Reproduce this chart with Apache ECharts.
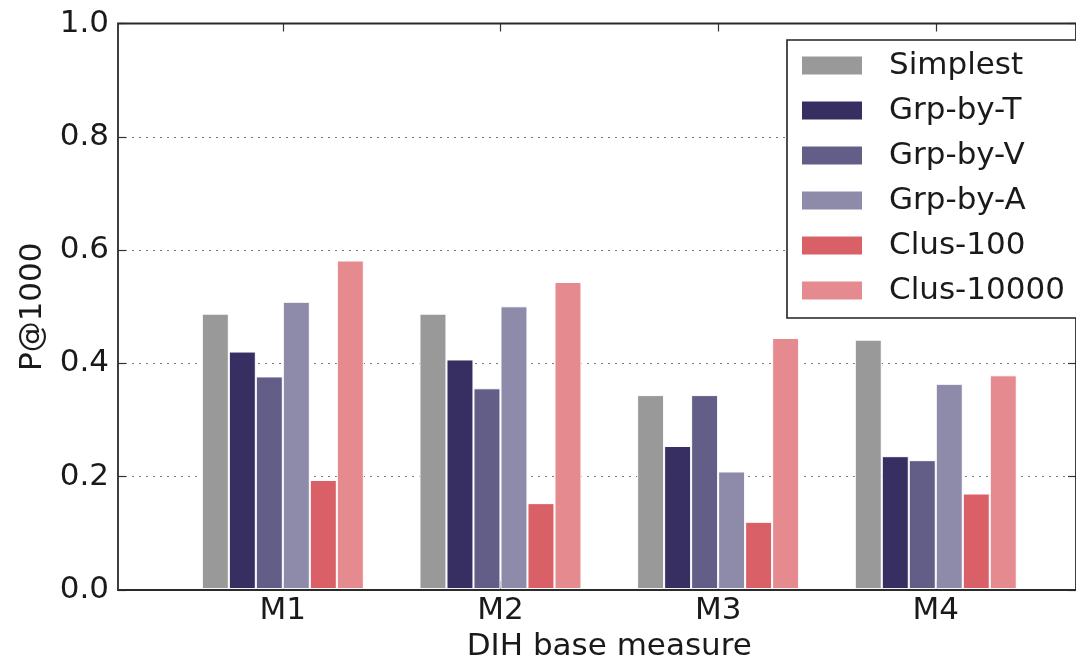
<!DOCTYPE html>
<html>
<head>
<meta charset="utf-8">
<script src="https://cdn.jsdelivr.net/npm/echarts@6/dist/echarts.min.js"></script>
<style>
html,body{margin:0;padding:0;background:#fff;}
#chart{width:1076px;height:667px;}
</style>
</head>
<body>
<div id="chart"></div>
<script>
const categories = ['M1', 'M2', 'M3', 'M4'];
const seriesNames = ['Simplest', 'Grp-by-T', 'Grp-by-V', 'Grp-by-A', 'Clus-100', 'Clus-10000'];
const simplest  = [0.487, 0.487, 0.343, 0.441];
const grpByT    = [0.420, 0.406, 0.253, 0.235];
const grpByV    = [0.376, 0.355, 0.343, 0.228];
const grpByA    = [0.508, 0.500, 0.208, 0.363];
const clus100   = [0.193, 0.152, 0.119, 0.169];
const clus10000 = [0.581, 0.543, 0.444, 0.378];
const yTicks = [0.0, 0.2, 0.4, 0.6, 0.8, 1.0];

const colors = ['#999999', '#372f62', '#625e87', '#8e8baa', '#da6067', '#e58b8f'];
const values = [simplest, grpByT, grpByV, grpByA, clus100, clus10000];
const FONT = 'DejaVu Sans';
const FS = 31;

const chart = echarts.init(document.getElementById('chart'));
const gridTop = 23.5, gridBottom = 77;

const option = {
  animation: false,
  backgroundColor: '#fff',
  textStyle: { fontFamily: FONT },
  legend: {
    orient: 'vertical',
    left: 787, top: 40,
    padding: [10, 14, 12, 13],
    itemWidth: 62, itemHeight: 20,
    itemGap: 14,
    backgroundColor: '#fff',
    borderColor: '#222', borderWidth: 1.6,
    textStyle: { fontFamily: FONT, fontSize: FS, color: '#1a1a1a', padding: [0, 0, 0, 21] },
    data: seriesNames.map(n => ({ name: n, icon: 'rect' })),
    z: 10
  },
  grid: [
    { left: 118, right: -25, top: gridTop, bottom: gridBottom, show: true, borderColor: '#2a2a2a', borderWidth: 1.8, backgroundColor: 'transparent', z: 5 },
    { left: 174, right: 31.4, top: gridTop, bottom: gridBottom }
  ],
  xAxis: [
    { gridIndex: 0, type: 'value', min: 0, max: 1, show: false },
    { gridIndex: 1, type: 'category', data: categories, position: 'bottom',
      axisLine: { show: false },
      axisTick: { show: true, inside: true, alignWithLabel: true, length: 8, lineStyle: { color: '#333', width: 1.2 } },
      axisLabel: { fontFamily: FONT, fontSize: FS, color: '#1a1a1a', margin: 6 },
      name: 'DIH base measure', nameLocation: 'middle', nameGap: 41,
      nameTextStyle: { fontFamily: FONT, fontSize: FS, color: '#1a1a1a' } },
    { gridIndex: 1, type: 'category', data: categories, position: 'top',
      axisLine: { show: false },
      axisTick: { show: true, inside: true, alignWithLabel: true, length: 8, lineStyle: { color: '#333', width: 1.2 } },
      axisLabel: { show: false } }
  ],
  yAxis: [
    { gridIndex: 0, type: 'value', min: 0, max: 1, interval: 0.2, position: 'left',
      axisLine: { show: false },
      axisTick: { show: true, inside: true, length: 8, lineStyle: { color: '#333', width: 1.2 } },
      axisLabel: { fontFamily: FONT, fontSize: FS, color: '#1a1a1a', margin: 9,
        formatter: v => { const t = yTicks.find(x => Math.abs(x - v) < 1e-9); return (t !== undefined ? t : v).toFixed(1); } },
      splitLine: { show: true, lineStyle: { type: [2, 5], color: '#777', width: 1.2 } },
      name: 'P@1000', nameLocation: 'middle', nameGap: 70, nameRotate: 90,
      nameTextStyle: { fontFamily: FONT, fontSize: FS, color: '#1a1a1a' } },
    { gridIndex: 0, type: 'value', min: 0, max: 1, interval: 0.2, position: 'right',
      axisLine: { show: false },
      axisTick: { show: true, inside: true, length: 8, lineStyle: { color: '#333', width: 1.2 } },
      axisLabel: { show: false }, splitLine: { show: false } },
    { gridIndex: 1, type: 'value', min: 0, max: 1, interval: 0.2, show: false }
  ],
  series: seriesNames.map((name, i) => ({
    name: name,
    type: 'bar',
    xAxisIndex: 1, yAxisIndex: 2,
    data: values[i],
    barWidth: 27,
    barGap: '0%',
    itemStyle: { color: colors[i], borderColor: '#ffffff', borderWidth: 1 },
    emphasis: { disabled: true },
    z: 2
  }))
};
chart.setOption(option);
</script>
</body>
</html>
